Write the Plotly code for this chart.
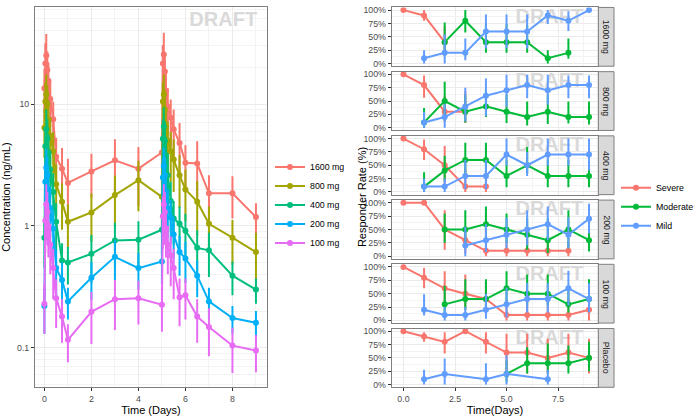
import plotly.graph_objects as go

W, H = 700, 420

# ---------------- PK data (left panel) ----------------
PK_TIME = [0, 0.04, 0.08, 0.125, 0.17, 0.25, 0.375, 0.5, 0.75, 1, 2, 3, 4, 5,
           5.04, 5.08, 5.125, 5.17, 5.25, 5.375, 5.5, 5.75, 6, 6.5, 7, 8, 9]
PK_DOSES = ["1600 mg", "800 mg", "400 mg", "200 mg", "100 mg"]
PK_COLORS = ["#F8766D", "#A3A500", "#00BF7D", "#00B0F6", "#E76BF3"]

PK_1600 = [13.5, 21.5, 25, 19, 15.5, 11, 7.5, 3.7, 2.95, 2.25, 2.8, 3.45, 2.95, 4.0,
           21.5, 25.5, 18.5, 12.8, 9.5, 7.7, 6.2, 4.8, 3.3, 3.25, 1.85, 1.85, 1.18]
SD_1600 = [6, 10, 12.5, 8, 6.5, 4.5, 3, 1.6, 1.4, 1.3, 1.1, 1.7, 1.5, 1.8,
           9, 13, 8, 5.5, 4, 3.2, 2.8, 2.2, 1.3, 1.7, 0.75, 0.7, 0.35]
PK_800 = [6.4, 10.5, 12, 10, 7.5, 5.5, 4.1, 2.2, 1.58, 1.08, 1.29, 1.79, 2.37, 1.73,
          10.5, 12, 9, 6.5, 5.0, 4.1, 3.5, 2.6, 1.99, 1.58, 1.04, 0.80, 0.61]
SD_800 = [2.8, 4.5, 5.5, 4.2, 3.2, 2.3, 1.8, 1.0, 0.65, 0.42, 0.55, 0.8, 1.05, 0.8,
          4.5, 5.5, 4, 2.8, 2.2, 1.8, 1.6, 1.2, 0.9, 0.75, 0.4, 0.32, 0.27]
PK_400 = [0.8, 4.5, 6.2, 5.2, 4.0, 2.9, 1.9, 1.08, 0.52, 0.50, 0.59, 0.76, 0.77, 0.93,
          5.2, 6.5, 5.0, 3.8, 2.6, 1.6, 1.15, 1.04, 0.91, 0.66, 0.63, 0.39, 0.30]
SD_400 = [0.35, 2.0, 2.8, 2.3, 1.7, 1.2, 0.8, 0.45, 0.2, 0.17, 0.25, 0.3, 0.32, 0.35,
          2.3, 2.9, 2.2, 1.6, 1.1, 0.7, 0.45, 0.4, 0.35, 0.26, 0.25, 0.12, 0.07]
PK_200 = [0.22, 2.3, 3.0, 2.6, 2.0, 1.4, 0.95, 0.45, 0.36, 0.24, 0.375, 0.557, 0.45, 0.51,
          2.5, 3.1, 2.6, 1.9, 1.4, 1.17, 0.85, 0.61, 0.54, 0.39, 0.24, 0.175, 0.16]
SD_200 = [0.09, 1.0, 1.3, 1.1, 0.85, 0.6, 0.4, 0.19, 0.14, 0.07, 0.13, 0.2, 0.15, 0.18,
          1.1, 1.3, 1.1, 0.8, 0.6, 0.45, 0.32, 0.22, 0.2, 0.13, 0.07, 0.045, 0.04]
PK_100 = [0.23, 1.1, 1.5, 1.3, 1.0, 0.7, 0.45, 0.255, 0.18, 0.116, 0.197, 0.25, 0.255, 0.225,
          1.2, 1.5, 1.3, 0.95, 0.7, 0.57, 0.45, 0.26, 0.27, 0.18, 0.148, 0.104, 0.095]
SD_100 = [0.1, 0.5, 0.7, 0.6, 0.45, 0.3, 0.2, 0.11, 0.07, 0.04, 0.09, 0.11, 0.1, 0.09,
          0.55, 0.7, 0.6, 0.4, 0.3, 0.25, 0.2, 0.11, 0.1, 0.07, 0.063, 0.042, 0.032]
PK_MEANS = [PK_1600, PK_800, PK_400, PK_200, PK_100]
PK_SDS = [SD_1600, SD_800, SD_400, SD_200, SD_100]

# ---------------- Responder data (right panels) ----------------
N = None
RESP_TIME = [0, 1, 2, 3, 4, 5, 6, 7, 8, 9]
RESP_CATS = ["Severe", "Moderate", "Mild"]
RESP_COLORS = ["#F8766D", "#00BA38", "#619CFF"]
PANELS = ["1600 mg", "800 mg", "400 mg", "200 mg", "100 mg", "Placebo"]

R1600 = {
    "Severe": ([1.0, 0.9, 0.4, N, N, N, N, N, N, N],
               [1.0, 0.8, 0.15, N, N, N, N, N, N, N],
               [1.0, 1.0, 0.7, N, N, N, N, N, N, N]),
    "Moderate": ([N, N, 0.4, 0.8, 0.4, 0.4, 0.4, 0.1, 0.2, N],
                 [N, N, 0.15, 0.58, 0.2, 0.2, 0.2, 0.0, 0.09, N],
                 [N, N, 0.77, 1.0, 0.74, 0.74, 0.72, 0.25, 0.47, N]),
    "Mild": ([N, 0.1, 0.2, 0.2, 0.6, 0.6, 0.6, 0.9, 0.8, 1.0],
             [N, 0.0, 0.0, 0.06, 0.28, 0.28, 0.28, 0.74, 0.61, 1.0],
             [N, 0.25, 0.55, 0.47, 0.92, 0.92, 0.92, 1.0, 0.98, 1.0]),
}
R800 = {
    "Severe": ([1.0, 0.8, 0.3, 0.3, N, N, N, N, N, N],
               [1.0, 0.56, 0.1, 0.09, N, N, N, N, N, N],
               [1.0, 0.98, 0.6, 0.69, N, N, N, N, N, N]),
    "Moderate": ([N, 0.1, 0.5, 0.3, 0.4, 0.3, 0.2, 0.3, 0.2, 0.2],
                 [N, 0.0, 0.13, 0.1, 0.2, 0.09, 0.04, 0.07, 0.08, 0.06],
                 [N, 0.37, 0.86, 0.62, 0.72, 0.62, 0.49, 0.62, 0.49, 0.49]),
    "Mild": ([N, 0.1, 0.2, 0.4, 0.6, 0.7, 0.8, 0.7, 0.8, 0.8],
             [N, 0.0, 0.0, 0.12, 0.22, 0.39, 0.55, 0.43, 0.55, 0.55],
             [N, 0.3, 0.45, 0.75, 0.92, 0.99, 0.99, 0.99, 0.98, 0.98]),
}
R400 = {
    "Severe": ([1.0, 0.8, 0.5, 0.1, 0.1, N, N, N, N, N],
               [1.0, 0.6, 0.15, 0.0, 0.0, N, N, N, N, N],
               [1.0, 0.98, 0.86, 0.43, 0.28, N, N, N, N, N]),
    "Moderate": ([N, 0.1, 0.4, 0.6, 0.6, 0.3, 0.5, 0.3, 0.3, 0.3],
                 [N, 0.0, 0.2, 0.31, 0.28, 0.09, 0.35, 0.09, 0.09, 0.09],
                 [N, 0.37, 0.68, 0.92, 0.92, 0.61, 0.84, 0.61, 0.61, 0.61]),
    "Mild": ([N, 0.1, 0.1, 0.3, 0.3, 0.7, 0.5, 0.7, 0.7, 0.7],
             [N, 0.0, 0.0, 0.05, 0.05, 0.49, 0.3, 0.49, 0.49, 0.4],
             [N, 0.25, 0.25, 0.6, 0.6, 1.0, 0.75, 1.0, 1.0, 1.0]),
}
R200 = {
    "Severe": ([1.0, 1.0, 0.5, 0.3, 0.1, 0.1, 0.1, 0.1, 0.1, N],
               [1.0, 1.0, 0.12, 0.05, 0.0, 0.0, 0.0, 0.0, 0.0, N],
               [1.0, 1.0, 0.86, 0.55, 0.25, 0.3, 0.3, 0.3, 0.25, N]),
    "Moderate": ([N, N, 0.5, 0.5, 0.6, 0.5, 0.4, 0.3, 0.5, 0.3],
                 [N, N, 0.25, 0.25, 0.31, 0.25, 0.12, 0.06, 0.15, 0.09],
                 [N, N, 0.8, 0.86, 0.93, 0.8, 0.71, 0.71, 0.86, 0.71]),
    "Mild": ([N, N, N, 0.2, 0.3, 0.4, 0.5, 0.6, 0.4, 0.7],
             [N, N, N, 0.0, 0.08, 0.15, 0.2, 0.3, 0.15, 0.43],
             [N, N, N, 0.55, 0.6, 0.72, 0.86, 0.93, 0.73, 0.98]),
}
R100 = {
    "Severe": ([1.0, 0.8, 0.6, 0.5, 0.4, 0.1, 0.1, 0.1, 0.1, 0.2],
               [1.0, 0.6, 0.3, 0.2, 0.15, 0.0, 0.0, 0.0, 0.0, 0.0],
               [1.0, 0.98, 0.92, 0.86, 0.72, 0.35, 0.4, 0.4, 0.4, 0.55]),
    "Moderate": ([N, N, 0.3, 0.4, 0.4, 0.6, 0.5, 0.5, 0.3, 0.4],
                 [N, N, 0.06, 0.2, 0.2, 0.31, 0.28, 0.28, 0.15, 0.2],
                 [N, N, 0.65, 0.77, 0.77, 0.92, 0.86, 0.86, 0.55, 0.77]),
    "Mild": ([N, 0.2, 0.1, 0.1, 0.2, 0.3, 0.4, 0.4, 0.6, 0.4],
             [N, 0.09, 0.0, 0.0, 0.03, 0.06, 0.15, 0.15, 0.28, 0.15],
             [N, 0.49, 0.25, 0.25, 0.5, 0.61, 0.7, 0.7, 0.93, 0.7]),
}
RPLACEBO = {
    "Severe": ([1.0, 0.9, 0.8, 1.0, 0.8, 0.6, 0.6, 0.5, 0.6, 0.5],
               [1.0, 0.8, 0.58, 1.0, 0.58, 0.21, 0.21, 0.21, 0.37, 0.21],
               [1.0, 0.98, 0.98, 1.0, 0.98, 0.95, 0.95, 0.86, 0.95, 0.86]),
    "Moderate": ([N, N, N, N, N, 0.2, 0.4, 0.4, 0.4, 0.5],
                 [N, N, N, N, N, 0.05, 0.21, 0.21, 0.21, 0.25],
                 [N, N, N, N, N, 0.45, 0.7, 0.77, 0.73, 0.8]),
    "Mild": ([N, 0.1, 0.2, N, 0.1, 0.2, N, 0.1, N, N],
             [N, 0.0, 0.0, N, 0.0, 0.0, N, 0.0, N, N],
             [N, 0.28, 0.49, N, 0.4, 0.55, N, 0.28, N, N]),
}
RESP_DATA = [R1600, R800, R400, R200, R100, RPLACEBO]

# ---------------- layout geometry (pixels) ----------------
def fx(px):
    return px / W

def fy(py):
    return 1 - py / H

LEFT_X = (35, 267)
LEFT_Y = (5, 389)
RIGHT_X = (391.7, 598.3)
STRIP_X = (598.3, 614)
PANEL_H = 59.33
PANEL_GAP = 5.5
PANEL_TOP0 = 5.5

FONT = "Liberation Sans, Arial, Helvetica, sans-serif"
GRID_MAJ = "#EBEBEB"
GRID_MIN = "#F3F3F3"
BORDER = "#7F7F7F"
TICKCOL = "#4D4D4D"

fig = go.Figure()

# DRAFT watermark (below data) for left panel
fig.add_trace(go.Scatter(x=[9.05], y=[58], mode="text", text=["<b>DRAFT</b>"],
                         textposition="bottom left",
                         textfont=dict(size=20, color="#D9D9D9", family=FONT),
                         showlegend=False, hoverinfo="skip", xaxis="x", yaxis="y"))

for name, col, m, sd in zip(PK_DOSES, PK_COLORS, PK_MEANS, PK_SDS):
    fig.add_trace(go.Scatter(
        x=PK_TIME, y=m, mode="lines+markers", name=name,
        line=dict(color=col, width=2), marker=dict(color=col, size=6),
        error_y=dict(type="data", array=sd, visible=True, thickness=2, width=0, color=col),
        legend="legend", xaxis="x", yaxis="y"))

layout = dict(
    width=W, height=H, margin=dict(l=0, r=0, t=0, b=0),
    paper_bgcolor="white", plot_bgcolor="white",
    font=dict(family=FONT, size=9, color="black"),
    showlegend=True,
)

layout["xaxis"] = dict(
    domain=[fx(LEFT_X[0]), fx(LEFT_X[1])], anchor="y",
    range=[-0.4, 9.47], tickmode="linear", tick0=0, dtick=2,
    showgrid=True, gridcolor=GRID_MAJ, gridwidth=1,
    minor=dict(dtick=1, tick0=0, showgrid=True, gridcolor=GRID_MIN, gridwidth=0.6),
    showline=True, mirror=True, linecolor=BORDER, linewidth=1,
    ticks="outside", ticklen=3, tickcolor="#333333", tickwidth=1,
    tickfont=dict(size=8.8, color=TICKCOL), zeroline=False,
    title=dict(text="Time (Days)", font=dict(size=11, color="black"), standoff=3),
)
layout["yaxis"] = dict(
    domain=[fy(LEFT_Y[1]), fy(LEFT_Y[0])], anchor="x", type="log",
    range=[-1.325, 1.797], tickmode="linear", tick0=0, dtick=1,
    showgrid=True, gridcolor=GRID_MAJ, gridwidth=1,
    minor=dict(dtick="D1", showgrid=True, gridcolor=GRID_MIN, gridwidth=0.6),
    showline=True, mirror=True, linecolor=BORDER, linewidth=1,
    ticks="outside", ticklen=3, tickcolor="#333333", tickwidth=1,
    tickfont=dict(size=8.8, color=TICKCOL), zeroline=False,
    title=dict(text="Concentration (ng/mL)", font=dict(size=11, color="black"), standoff=6),
)

shapes = []
annotations = []

for i, (panel, data) in enumerate(zip(PANELS, RESP_DATA)):
    top = PANEL_TOP0 + i * (PANEL_H + PANEL_GAP)
    bot = top + PANEL_H
    xa = "x%d" % (i + 2)
    ya = "y%d" % (i + 2)
    last = i == len(PANELS) - 1

    fig.add_trace(go.Scatter(x=[8.72], y=[1.045], mode="text", text=["<b>DRAFT</b>"],
                             textposition="bottom left",
                             textfont=dict(size=20, color="#D9D9D9", family=FONT),
                             showlegend=False, hoverinfo="skip", xaxis=xa, yaxis=ya))

    for cat, col in zip(RESP_CATS, RESP_COLORS):
        vals, los, his = data[cat]
        xs, ys, ep, em = [], [], [], []
        for t, v, lo, hi in zip(RESP_TIME, vals, los, his):
            if v is None:
                continue
            xs.append(t)
            ys.append(v)
            ep.append(hi - v)
            em.append(v - lo)
        fig.add_trace(go.Scatter(
            x=xs, y=ys, mode="lines+markers", name=cat,
            line=dict(color=col, width=2), marker=dict(color=col, size=6),
            error_y=dict(type="data", array=ep, arrayminus=em, symmetric=False,
                         visible=True, thickness=2, width=0, color=col),
            legend="legend2", legendgroup=cat, showlegend=(i == 0),
            xaxis=xa, yaxis=ya))

    layout["xaxis%d" % (i + 2)] = dict(
        domain=[fx(RIGHT_X[0]), fx(RIGHT_X[1])], anchor=ya,
        range=[-0.57, 9.45], tickmode="linear", tick0=0, dtick=2.5,
        showgrid=True, gridcolor=GRID_MAJ, gridwidth=1,
        minor=dict(dtick=1.25, tick0=0, showgrid=True, gridcolor=GRID_MIN, gridwidth=0.6),
        showline=True, mirror=True, linecolor=BORDER, linewidth=1,
        ticks="outside" if last else "", ticklen=3, tickcolor="#333333",
        showticklabels=last, tickformat=".1f",
        tickfont=dict(size=8.8, color=TICKCOL), zeroline=False,
        title=dict(text="Time(Days)" if last else "", font=dict(size=11, color="black"), standoff=3),
    )
    layout["yaxis%d" % (i + 2)] = dict(
        domain=[fy(bot), fy(top)], anchor=xa,
        range=[-0.05, 1.05], tickmode="linear", tick0=0, dtick=0.25,
        tickformat=".0%",
        showgrid=True, gridcolor=GRID_MAJ, gridwidth=1,
        minor=dict(dtick=0.125, tick0=0, showgrid=True, gridcolor=GRID_MIN, gridwidth=0.6),
        showline=True, mirror=True, linecolor=BORDER, linewidth=1,
        ticks="outside", ticklen=3, tickcolor="#333333",
        tickfont=dict(size=8.8, color=TICKCOL), zeroline=False,
    )

    shapes.append(dict(type="rect", xref="paper", yref="paper",
                       x0=fx(STRIP_X[0]), x1=fx(STRIP_X[1]), y0=fy(bot), y1=fy(top),
                       fillcolor="#D9D9D9", line=dict(color=BORDER, width=1), layer="above"))
    annotations.append(dict(xref="paper", yref="paper",
                            x=fx((STRIP_X[0] + STRIP_X[1]) / 2), y=fy((top + bot) / 2),
                            text=panel, textangle=90, showarrow=False,
                            font=dict(size=8.8, color="#1A1A1A", family=FONT),
                            xanchor="center", yanchor="middle"))

annotations.append(dict(xref="paper", yref="paper", x=fx(362), y=fy(197),
                        text="Responder Rate (%)", textangle=-90, showarrow=False,
                        font=dict(size=11, color="black", family=FONT),
                        xanchor="center", yanchor="middle"))

layout["shapes"] = shapes
layout["annotations"] = annotations
layout["legend"] = dict(x=fx(270), y=fy(152), xanchor="left", yanchor="top",
                        font=dict(size=8.8, color="black", family=FONT),
                        bgcolor="rgba(0,0,0,0)", tracegroupgap=0, itemwidth=30)
layout["legend2"] = dict(x=fx(616), y=fy(173), xanchor="left", yanchor="top",
                         font=dict(size=8.8, color="black", family=FONT),
                         bgcolor="rgba(0,0,0,0)", tracegroupgap=0, itemwidth=30)

fig.update_layout(**layout)
fig.write_html("out.html")
